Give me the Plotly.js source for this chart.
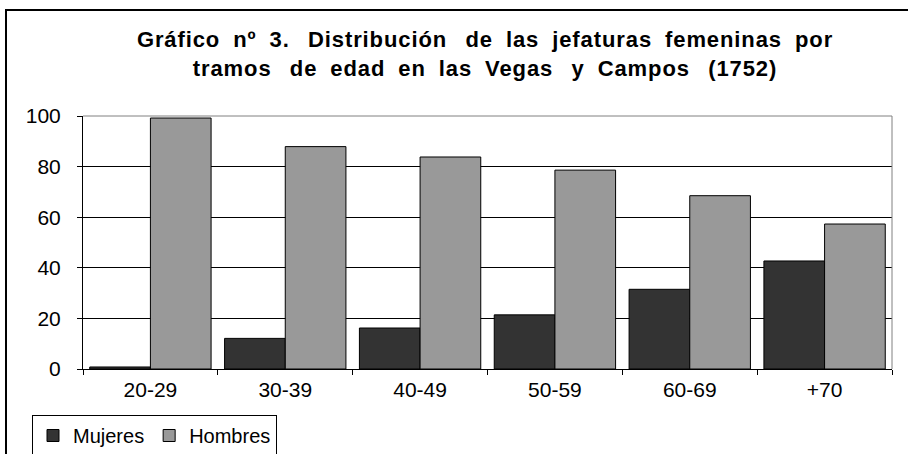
<!DOCTYPE html>
<html>
<head>
<meta charset="utf-8">
<script src="https://cdn.plot.ly/plotly-3.0.1.min.js"></script>
<style>
html,body{margin:0;padding:0;background:#fff;}
#chart{width:908px;height:454px;}
#chart .gtitle{letter-spacing:0.9px;word-spacing:6px;}
</style>
</head>
<body>
<div id="chart"></div>
<script>
const categories = ["20-29", "30-39", "40-49", "50-59", "60-69", "+70"];
const mujeres = [0.8, 12.1, 16.2, 21.4, 31.5, 42.7];
const hombres = [99.2, 87.9, 83.8, 78.6, 68.5, 57.3];
const yTicks = [0, 20, 40, 60, 80, 100];

const FONT = "Liberation Sans, Arial, Helvetica, sans-serif";

const traces = [
  {
    type: "bar", name: "Mujeres", x: categories, y: mujeres,
    marker: { color: "#333333", line: { color: "#000000", width: 1 } },
    hoverinfo: "skip"
  },
  {
    type: "bar", name: "Hombres", x: categories, y: hombres,
    marker: { color: "#999999", line: { color: "#000000", width: 1 } },
    hoverinfo: "skip"
  }
];

const L = 83, R = 16, T = 116, B = 85;
const W = 908, H = 454;
const pw = W - L - R, ph = H - T - B;
const px = v => (v - L) / pw;
const py = v => (H - B - v) / ph;

const layout = {
  width: W, height: H,
  margin: { l: L, r: R, t: T, b: B, pad: 0, autoexpand: false },
  paper_bgcolor: "#ffffff",
  plot_bgcolor: "#ffffff",
  font: { family: FONT, size: 21, color: "#000000" },
  title: {
    text: "<b>Gráfico nº 3.\u2009 Distribución\u2009 de las jefaturas femeninas por<br>tramos\u2009 de edad en las Vegas\u2009 y Campos\u2009 (1752)</b>",
    font: { family: FONT, size: 22, color: "#000000" },
    x: 485 / W, xanchor: "center", xref: "container",
    y: 1 - 47 / H, yanchor: "top", yref: "container"
  },
  barmode: "group",
  bargap: 0.1,
  bargroupgap: 0,
  showlegend: true,
  legend: {
    orientation: "h",
    x: px(32), xanchor: "left",
    y: py(415), yanchor: "top",
    bordercolor: "#000000", borderwidth: 1,
    bgcolor: "#ffffff",
    font: { family: FONT, size: 20, color: "#000000" },
    itemwidth: 30,
    traceorder: "normal"
  },
  xaxis: {
    type: "category",
    showgrid: false,
    showline: true, linecolor: "#000000", linewidth: 1,
    ticks: "outside", tickson: "boundaries", ticklen: 5, tickcolor: "#000000",
    ticklabelstandoff: 2,
    tickfont: { family: FONT, size: 21, color: "#000000" },
    fixedrange: true
  },
  yaxis: {
    range: [0, 100],
    tickvals: yTicks,
    ticktext: yTicks.map(String),
    showgrid: true, gridcolor: "#000000", gridwidth: 1,
    zeroline: false,
    showline: true, linecolor: "#000000", linewidth: 1,
    ticks: "outside", ticklen: 5, tickcolor: "#000000",
    ticklabelstandoff: 12,
    tickfont: { family: FONT, size: 21, color: "#000000" },
    fixedrange: true
  },
  shapes: [
    {
      type: "path", xref: "paper", yref: "paper",
      path: "M 0,1 L 1,1 L 1,0",
      line: { color: "#808080", width: 1 }, layer: "above"
    },
    {
      type: "rect", xref: "paper", yref: "paper",
      x0: px(6), x1: px(1000), y0: py(10), y1: py(600),
      line: { color: "#000000", width: 2 }, fillcolor: "rgba(0,0,0,0)", layer: "below"
    }
  ]
};

Plotly.newPlot("chart", traces, layout, { displayModeBar: false, staticPlot: true });
</script>
</body>
</html>
